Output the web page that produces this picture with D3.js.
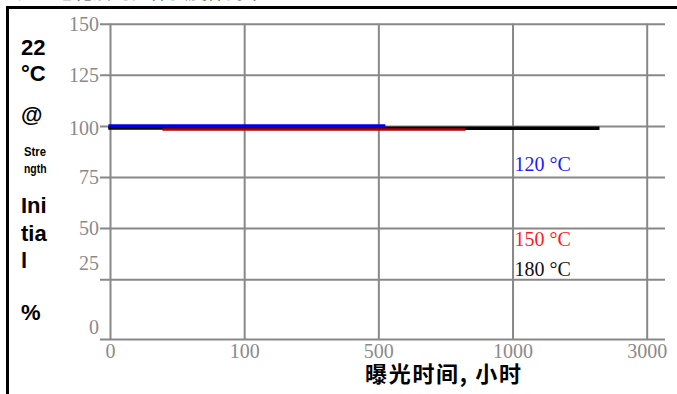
<!DOCTYPE html>
<html>
<head>
<meta charset="utf-8">
<script src="https://cdn.jsdelivr.net/npm/d3@7/dist/d3.min.js"></script>
<style>
  html, body { margin: 0; padding: 0; background: #fff; overflow: hidden; }
  svg { display: block; }
</style>
</head>
<body>
<svg id="chart" width="677" height="394"></svg>
<script>
// Exposure-time categories (hours) and their tick labels
const hourTicks = [0, 100, 500, 1000, 3000];
const hourLabels = ["0", "100", "500", "1000", "3000"];

// Retained strength ticks (% of initial)
const strengthTicks = [150, 125, 100, 75, 50, 25, 0];
const strengthGrid = [150, 125, 100, 75, 50, 25];

// Series: ageing temperature, exposure hours, retained strength (%)
const seriesNames = ["180 °C", "150 °C", "120 °C"];
const hours180 = [0, 40, 580, 1000, 2270];
const strength180 = [99.0, 99.0, 98.9, 98.9, 98.9];
const hours150 = [40, 100, 500, 820];
const strength150 = [98.3, 98.3, 98.3, 98.3];
const hours120 = [0, 100, 500, 520];
const strength120 = [100, 100, 100, 100];

const hourSeries = [hours180, hours150, hours120];
const strengthSeries = [strength180, strength150, strength120];
const seriesColors = ["#000000", "#b00000", "#0000e8"];
const seriesWidths = [3.5, 2.5, 3.2];
const labelColors = ["#111111", "#ff1a1a", "#1a1aff"];

const svg = d3.select("#chart");

// Outer frame (runs past the right and bottom edges)
svg.append("rect")
  .attr("x", 7.5).attr("y", 7.5)
  .attr("width", 760).attr("height", 460)
  .attr("fill", "none").attr("stroke", "#000").attr("stroke-width", 3);

// Heading above the frame
svg.append("text")
  .attr("x", -2).attr("y", -1.5)
  .attr("font-family", "'Noto Sans CJK SC', sans-serif")
  .attr("font-size", 19).attr("fill", "#444")
  .text("（高温老化后的拉伸强度保持率）");

// Category positions, then a piecewise scale mapping hours onto them
const xPoint = d3.scalePoint().domain(hourLabels).range([110, 646.7]);
const x = d3.scaleLinear()
  .domain(hourTicks)
  .range(hourLabels.map(l => xPoint(l)));

const yBottom = -4.5;
const y = d3.scaleLinear().domain([yBottom, 150]).range([339.5, 23.7]);

const gridColor = "#888888";
const labelGray = "#8a8a8a";
const serif = "'Liberation Serif', 'Times New Roman', serif";

// Horizontal gridlines (with short ticks to the left of the axis)
const yGrid = svg.append("g").attr("transform", "translate(110,0)")
  .call(d3.axisLeft(y).tickValues(strengthGrid).tickSize(-555).tickFormat(""));
yGrid.select(".domain").remove();
yGrid.selectAll(".tick line")
  .attr("x1", -10)
  .attr("stroke", gridColor).attr("stroke-width", 2);

// Vertical gridlines at each category
const xGrid = svg.append("g").attr("transform", `translate(0,${y(yBottom)})`)
  .call(d3.axisBottom(x).tickValues(hourTicks).tickSize(-(y(yBottom) - y(150))).tickFormat(""));
xGrid.select(".domain").remove();
xGrid.selectAll(".tick line").attr("stroke", gridColor).attr("stroke-width", 2);

// Base line of the plot
svg.append("line")
  .attr("x1", 100).attr("x2", 665)
  .attr("y1", y(yBottom)).attr("y2", y(yBottom))
  .attr("stroke", gridColor).attr("stroke-width", 2);

// Y tick labels
const labelNudge = { 25: -16, 0: -3.5, 100: 2 };
const yAxis = svg.append("g").attr("transform", "translate(110,0)")
  .call(d3.axisLeft(y).tickValues(strengthTicks).tickSize(0).tickPadding(11).tickFormat(d3.format("d")));
yAxis.select(".domain").remove();
yAxis.selectAll(".tick text")
  .attr("font-family", serif).attr("font-size", 20).attr("fill", labelGray)
  .attr("y", d => labelNudge[d] || 0);

// X tick labels
const xAxis = svg.append("g").attr("transform", `translate(0,${y(yBottom)})`)
  .call(d3.axisBottom(x).tickValues(hourTicks).tickSize(0).tickPadding(4)
    .tickFormat((d, i) => hourLabels[i]));
xAxis.select(".domain").remove();
xAxis.selectAll(".tick text")
  .attr("font-family", serif).attr("font-size", 20).attr("fill", labelGray);

// Data lines
const line = d3.line().x(d => x(d[0])).y(d => y(d[1]));
seriesNames.forEach((name, i) => {
  const pts = hourSeries[i].map((h, j) => [h, strengthSeries[i][j]]);
  svg.append("path")
    .datum(pts)
    .attr("d", line)
    .attr("fill", "none")
    .attr("stroke", seriesColors[i])
    .attr("stroke-width", seriesWidths[i])
    .attr("stroke-linecap", "square");
});

// Series labels
const seriesLabelY = { "120 °C": 170.7, "150 °C": 245.7, "180 °C": 275.7 };
seriesNames.forEach((name, i) => {
  svg.append("text")
    .attr("x", x(1000) + 2)
    .attr("y", seriesLabelY[name])
    .attr("font-family", serif).attr("font-size", 20)
    .attr("fill", labelColors[i])
    .text(name);
});

// Y axis title, stacked line by line
const sans = "'Liberation Sans', Arial, sans-serif";
const yTitleLines = [
  { t: "22", y: 55, s: 22 },
  { t: "°C", y: 81, s: 22 },
  { t: "@", y: 122, s: 22 },
  { t: "Stre", y: 156, s: 13, w: 22 },
  { t: "ngth", y: 172.5, s: 13, w: 22.5 },
  { t: "Ini", y: 213.3, s: 22 },
  { t: "tia", y: 240.7, s: 22 },
  { t: "l", y: 267.7, s: 22 },
  { t: "%", y: 320, s: 22 }
];
yTitleLines.forEach(l => {
  const t = svg.append("text")
    .attr("x", l.s < 20 ? 24 : 21)
    .attr("y", l.y)
    .attr("font-family", sans).attr("font-weight", "bold")
    .attr("font-size", l.s).attr("fill", "#000")
    .text(l.t);
  if (l.w) t.attr("textLength", l.w).attr("lengthAdjust", "spacingAndGlyphs");
});

// X axis title
svg.append("text")
  .attr("x", 365).attr("y", 381.5)
  .attr("font-family", "'Noto Sans CJK SC', sans-serif")
  .attr("font-weight", "bold").attr("font-size", 22).attr("fill", "#000")
  .attr("textLength", 156).attr("lengthAdjust", "spacing")
  .text("曝光时间, 小时");
</script>
</body>
</html>
